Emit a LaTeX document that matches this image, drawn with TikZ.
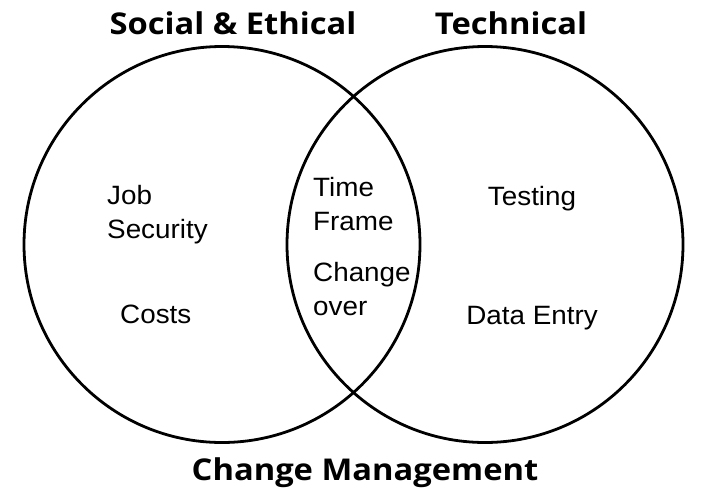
\documentclass[tikz,border=0pt]{standalone}
\usepackage{fontspec}
\setmainfont{Liberation Sans}[FakeStretch=1.05]
\newfontfamily\titlefont{Open Sans}[FakeStretch=1.09]
\begin{document}
\begin{tikzpicture}[x=1pt,y=-1pt,
  ring/.style={draw=black,line width=2.8pt},
  ttl/.style={font=\titlefont\bfseries\fontsize{30}{36}\selectfont,anchor=base,inner sep=0pt},
  lbl/.style={font=\fontsize{26.5}{34}\selectfont,inner sep=0pt,align=left}]
\useasboundingbox (0,0) rectangle (719,496);
\fill[white] (0,0) rectangle (719,496);
\node[ring,circle,minimum size=396pt,inner sep=0pt] (L) at (222,244.5) {};
\node[ring,circle,minimum size=396pt,inner sep=0pt] (R) at (485,244.5) {};
\node[ttl] (t1) at (233,34) {Social \& Ethical};
\node[ttl] (t2) at (511,34) {Technical};
\node[ttl] (t3) at (365,480) {Change Management};
\node[lbl,anchor=base west] (job) at (107,204) {Job};
\node[lbl,anchor=base west] (sec) at (107,238) {Security};
\node[lbl,anchor=base west] (cost) at (120,323) {Costs};
\node[lbl,anchor=base west] (time) at (313,196) {Time};
\node[lbl,anchor=base west] (frame) at (313,230) {Frame};
\node[lbl,anchor=base west] (chg) at (313,281) {Change};
\node[lbl,anchor=base west] (over) at (313,315) {over};
\node[lbl,anchor=base] (test) at (532,205) {Testing};
\node[lbl,anchor=base] (data) at (532,324) {Data Entry};
\end{tikzpicture}
\end{document}
